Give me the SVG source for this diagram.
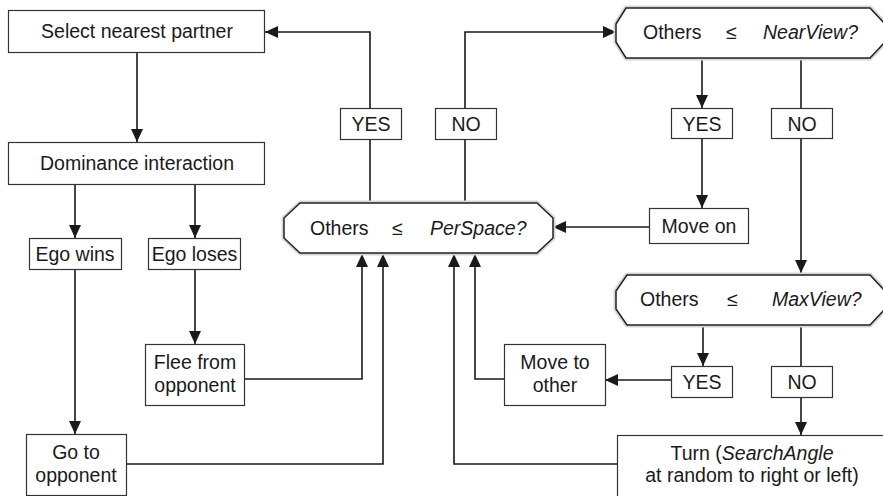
<svg xmlns="http://www.w3.org/2000/svg" width="883" height="496" viewBox="0 0 883 496">
<style>
.box{fill:#fff;stroke:#333;stroke-width:1.2}
.hex{fill:#fff;stroke:#222;stroke-width:1.5}
.hexsh{fill:none;stroke:#d6d6d6;stroke-width:5;stroke-linejoin:round}
.t{font-family:"Liberation Sans",Arial,sans-serif;font-size:19.5px;fill:#1a1a1a;text-anchor:middle}
.ts{font-family:"Liberation Sans",Arial,sans-serif;font-size:19.5px;fill:#1a1a1a}
.i{font-style:italic}
.c{fill:none;stroke:#1a1a1a;stroke-width:1.6}
.a{marker-end:url(#ah)}
</style>
<defs>
<marker id="ah" markerUnits="userSpaceOnUse" markerWidth="13" markerHeight="12" refX="13" refY="6" orient="auto">
<path d="M0,0 L13,6 L0,12 z" fill="#1a1a1a"/>
</marker>
</defs>
<rect x="0" y="0" width="883" height="496" fill="#fff"/>

<g id="connectors">
<path class="c a" d="M137,52 V142"/>
<path class="c a" d="M75,184 V238"/>
<path class="c a" d="M195,184 V238"/>
<path class="c a" d="M195,269 V344"/>
<path class="c a" d="M75,269 V434"/>
<path class="c a" d="M244,379 H362 V254"/>
<path class="c a" d="M126,464 H383 V254"/>
<path class="c" d="M370,203 V139"/>
<path class="c a" d="M370,108 V32 H265"/>
<path class="c" d="M465,203 V139"/>
<path class="c a" d="M465,108 V32 H616"/>
<path class="c a" d="M702,58 V108"/>
<path class="c a" d="M702,138 V208"/>
<path class="c a" d="M649,227 H553"/>
<path class="c" d="M801,58 V108"/>
<path class="c a" d="M801,138 V273"/>
<path class="c a" d="M703,325 V366"/>
<path class="c a" d="M671,380 H605"/>
<path class="c a" d="M504,379 H475 V254"/>
<path class="c" d="M801,325 V366"/>
<path class="c a" d="M801,397 V435"/>
<path class="c a" d="M617,464 H454 V254"/>
</g>

<g id="select">
<rect class="box" x="8.5" y="10.5" width="256" height="42"/>
<text class="t" x="137" y="38">Select nearest partner</text>
</g>
<g id="dominance">
<rect class="box" x="8.5" y="142.5" width="256" height="42"/>
<text class="t" x="137" y="170">Dominance interaction</text>
</g>
<g id="egowins">
<rect class="box" x="29.5" y="238.5" width="92" height="31"/>
<text class="t" x="75" y="261">Ego wins</text>
</g>
<g id="egoloses">
<rect class="box" x="148.5" y="238.5" width="92" height="31"/>
<text class="t" x="194.5" y="261">Ego loses</text>
</g>
<g id="flee">
<rect class="box" x="145.5" y="344.5" width="99" height="61"/>
<text class="t" x="195" y="369">Flee from</text>
<text class="t" x="195" y="392">opponent</text>
</g>
<g id="goto">
<rect class="box" x="26.5" y="434.5" width="100" height="61"/>
<text class="t" x="76" y="459">Go to</text>
<text class="t" x="76" y="482">opponent</text>
</g>
<g id="perspace">
<polygon class="hexsh" points="300,203 537,203 553,218 553,238 537,253 300,253 284,238 284,218"/>
<polygon class="hex" points="300,203 537,203 553,218 553,238 537,253 300,253 284,238 284,218"/>
<text class="ts" x="310" y="235">Others</text>
<text class="ts" x="392" y="235">≤</text>
<text class="ts i" x="430" y="235">PerSpace?</text>
</g>
<g id="yes1">
<rect class="box" x="340.5" y="108.5" width="61" height="31"/>
<text class="t" x="371" y="131">YES</text>
</g>
<g id="no1">
<rect class="box" x="435.5" y="108.5" width="61" height="31"/>
<text class="t" x="466" y="131">NO</text>
</g>
<g id="nearview">
<polygon class="hexsh" points="626,8 870,8 885,24 885,42 870,58 626,58 616,42 616,24"/>
<polygon class="hex" points="626,8 870,8 885,24 885,42 870,58 626,58 616,42 616,24"/>
<text class="ts" x="643" y="39">Others</text>
<text class="ts" x="726" y="39">≤</text>
<text class="ts i" x="763" y="39">NearView?</text>
</g>
<g id="yes2">
<rect class="box" x="671.5" y="108.5" width="61" height="30"/>
<text class="t" x="702" y="131">YES</text>
</g>
<g id="no2">
<rect class="box" x="771.5" y="108.5" width="61" height="30"/>
<text class="t" x="802" y="131">NO</text>
</g>
<g id="moveon">
<rect class="box" x="649.5" y="208.5" width="99" height="35"/>
<text class="t" x="699" y="233">Move on</text>
</g>
<g id="maxview">
<polygon class="hexsh" points="627,275 870,275 885,291 885,309 870,325 627,325 616,309 616,291"/>
<polygon class="hex" points="627,275 870,275 885,291 885,309 870,325 627,325 616,309 616,291"/>
<text class="ts" x="640" y="306">Others</text>
<text class="ts" x="727" y="306">≤</text>
<text class="ts i" x="772" y="306">MaxView?</text>
</g>
<g id="yes3">
<rect class="box" x="671.5" y="366.5" width="61" height="31"/>
<text class="t" x="702" y="389">YES</text>
</g>
<g id="no3">
<rect class="box" x="771.5" y="366.5" width="61" height="31"/>
<text class="t" x="802" y="389">NO</text>
</g>
<g id="movetoother">
<rect class="box" x="504.5" y="344.5" width="101" height="61"/>
<text class="t" x="555" y="369">Move to</text>
<text class="t" x="555" y="392">other</text>
</g>
<g id="turn">
<rect class="box" x="617.5" y="435.5" width="275" height="70"/>
<text class="t" x="752" y="460">Turn (<tspan class="i">SearchAngle</tspan></text>
<text class="t" x="752" y="482">at random to right or left)</text>
</g>
</svg>
